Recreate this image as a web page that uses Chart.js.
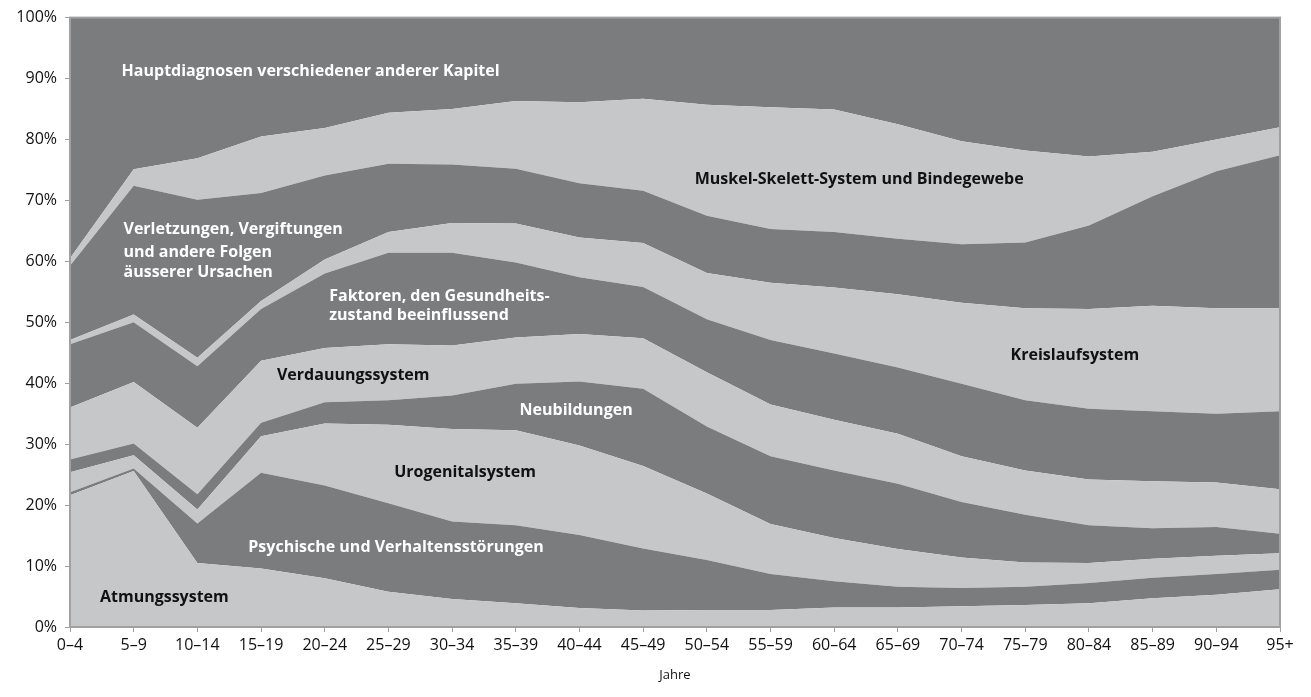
<!DOCTYPE html>
<html lang="de">
<head>
<meta charset="utf-8">
<title>Hauptdiagnosen nach Altersgruppen</title>
<script src="https://cdn.jsdelivr.net/npm/chart.js@4.4.1/dist/chart.umd.min.js"></script>
<style>
  html, body { margin: 0; padding: 0; background: #fff; }
  #wrap { width: 1311px; height: 697px; }
</style>
</head>
<body>
<div id="wrap"><canvas id="chart-area" width="1311" height="697"></canvas></div>
<script>
// Altersgruppen (x-Achse)
const altersgruppen = [
  "0–4", "5–9", "10–14", "15–19", "20–24", "25–29", "30–34", "35–39", "40–44", "45–49",
  "50–54", "55–59", "60–64", "65–69", "70–74", "75–79", "80–84", "85–89", "90–94", "95+",
];

// Anteile in % je Altersgruppe (von unten nach oben gestapelt)
const atmung      = [21.6, 25.6, 10.5, 9.6, 8.0, 5.8, 4.6, 3.9, 3.1, 2.7, 2.8, 2.8, 3.2, 3.2, 3.4, 3.6, 3.9, 4.7, 5.3, 6.2];
const psychische  = [0.5, 0.4, 6.5, 15.7, 15.2, 14.5, 12.7, 12.8, 12.0, 10.2, 8.2, 5.9, 4.3, 3.4, 3.0, 3.0, 3.3, 3.4, 3.4, 3.2];
const urogenital  = [3.3, 2.2, 2.3, 6.0, 10.2, 12.9, 15.2, 15.6, 14.7, 13.5, 10.9, 8.2, 7.1, 6.2, 5.0, 4.0, 3.3, 3.1, 3.0, 2.7];
const neubildung  = [2.1, 1.9, 2.5, 2.2, 3.5, 4.0, 5.5, 7.6, 10.5, 12.7, 11.0, 11.1, 11.1, 10.7, 9.1, 7.8, 6.2, 5.0, 4.7, 3.2];
const verdauung   = [8.5, 10.1, 10.9, 10.2, 8.9, 9.2, 8.2, 7.6, 7.8, 8.3, 8.9, 8.5, 8.3, 8.2, 7.5, 7.3, 7.5, 7.7, 7.3, 7.3];
const faktoren    = [10.4, 9.8, 10.1, 8.5, 12.2, 15.0, 15.2, 12.3, 9.3, 8.4, 8.7, 10.6, 10.9, 10.9, 11.9, 11.5, 11.6, 11.5, 11.3, 12.8];
const kreislauf   = [0.7, 1.3, 1.4, 1.3, 2.3, 3.4, 4.9, 6.4, 6.5, 7.2, 7.6, 9.4, 10.8, 12.0, 13.3, 15.1, 16.4, 17.3, 17.3, 16.9];
const verletzung  = [12.2, 21.1, 25.9, 17.7, 13.8, 11.2, 9.6, 9.0, 8.9, 8.6, 9.4, 8.8, 9.1, 9.1, 9.6, 10.8, 13.7, 18.0, 22.5, 25.1];
const muskel      = [1.2, 2.7, 6.8, 9.3, 7.8, 8.4, 9.1, 11.1, 13.3, 15.1, 18.2, 20.0, 20.1, 18.8, 16.9, 15.1, 11.3, 7.3, 5.2, 4.6];
const haupt       = [39.5, 24.9, 23.1, 19.5, 18.1, 15.6, 15.0, 13.7, 13.9, 13.3, 14.3, 14.7, 15.1, 17.5, 20.3, 21.8, 22.8, 22.0, 20.0, 18.0];

const yTicks = [0, 10, 20, 30, 40, 50, 60, 70, 80, 90, 100];

const hell = "rgb(198, 199, 201)";
const dunkel = "rgb(123, 124, 126)";
const achse = "rgb(160, 160, 160)";

const serien = [
  { label: "Atmungssystem", data: atmung },
  { label: "Psychische und Verhaltensstörungen", data: psychische },
  { label: "Urogenitalsystem", data: urogenital },
  { label: "Neubildungen", data: neubildung },
  { label: "Verdauungssystem", data: verdauung },
  { label: "Faktoren, den Gesundheitszustand beeinflussend", data: faktoren },
  { label: "Kreislaufsystem", data: kreislauf },
  { label: "Verletzungen, Vergiftungen und andere Folgen äusserer Ursachen", data: verletzung },
  { label: "Muskel-Skelett-System und Bindegewebe", data: muskel },
  { label: "Hauptdiagnosen verschiedener anderer Kapitel", data: haupt },
];

// Beschriftungen in den Flächen (x = Index der Altersgruppe, y = %)
const beschriftungen = [
  { text: "Hauptdiagnosen verschiedener anderer Kapitel", x: 0.81, y: 91.2, hell: true },
  { text: "Verletzungen, Vergiftungen", x: 0.84, y: 65.2, hell: true },
  { text: "und andere Folgen", x: 0.84, y: 61.5, hell: true },
  { text: "äusserer Ursachen", x: 0.84, y: 58.2, hell: true },
  { text: "Faktoren, den Gesundheits-", x: 4.07, y: 54.3, hell: true },
  { text: "zustand beeinflussend", x: 4.07, y: 51.1, hell: true },
  { text: "Verdauungssystem", x: 3.25, y: 41.2, hell: false },
  { text: "Neubildungen", x: 7.06, y: 35.6, hell: true },
  { text: "Urogenitalsystem", x: 5.09, y: 25.4, hell: false },
  { text: "Psychische und Verhaltensstörungen", x: 2.80, y: 13.0, hell: true },
  { text: "Atmungssystem", x: 0.47, y: 4.9, hell: false },
  { text: "Muskel-Skelett-System und Bindegewebe", x: 9.81, y: 73.4, hell: false },
  { text: "Kreislaufsystem", x: 14.77, y: 44.5, hell: false },
];

const flaechenText = {
  id: "flaechenText",
  afterDatasetsDraw(chart) {
    const { ctx, scales } = chart;
    ctx.save();
    ctx.font = "bold 16px 'Open Sans'";
    ctx.textAlign = "left";
    ctx.textBaseline = "middle";
    beschriftungen.forEach((b) => {
      ctx.fillStyle = b.hell ? "#ffffff" : "#111111";
      ctx.fillText(b.text, scales.x.getPixelForValue(b.x), scales.y.getPixelForValue(b.y));
    });
    // Rahmen um die Zeichenfläche
    const a = chart.chartArea;
    ctx.strokeStyle = achse;
    ctx.lineWidth = 2;
    ctx.strokeRect(a.left, a.top, a.right - a.left, a.bottom - a.top);
    ctx.restore();
  },
};

const ctx = document.getElementById("chart-area").getContext("2d");
new Chart(ctx, {
  type: "line",
  data: {
    labels: altersgruppen,
    datasets: serien.map((s, i) => ({
      label: s.label,
      data: s.data,
      backgroundColor: i % 2 === 0 ? hell : dunkel,
      borderWidth: 0,
      pointRadius: 0,
      fill: i === 0 ? "origin" : "-1",
      tension: 0,
    })),
  },
  options: {
    responsive: false,
    animation: false,
    layout: { padding: { left: 0, top: 16, right: 31, bottom: 0 } },
    plugins: {
      legend: { display: false },
      tooltip: { enabled: false },
    },
    scales: {
      x: {
        offset: false,
        afterFit: (scale) => { scale.height = 70; },
        grid: { display: true, drawOnChartArea: false, tickLength: 5, color: achse, lineWidth: 1 },
        border: { color: achse, width: 2 },
        ticks: {
          autoSkip: false,
          maxRotation: 0,
          padding: 4,
          color: "#111",
          font: { family: "'Open Sans'", size: 16 },
        },
        title: {
          display: true,
          text: "Jahre",
          color: "#111",
          padding: { top: 14, bottom: 14 },
          font: { family: "'Open Sans'", size: 13 },
        },
      },
      y: {
        stacked: true,
        min: 0,
        max: 100,
        afterFit: (scale) => { scale.width = 70; },
        afterBuildTicks: (scale) => { scale.ticks = yTicks.map((v) => ({ value: v })); },
        grid: { display: true, drawOnChartArea: false, tickLength: 5, color: achse, lineWidth: 1 },
        border: { color: achse, width: 2 },
        ticks: {
          padding: 8,
          color: "#111",
          font: { family: "'Open Sans'", size: 16 },
          callback: (v) => v + "%",
        },
      },
    },
  },
  plugins: [flaechenText],
});
</script>
</body>
</html>
